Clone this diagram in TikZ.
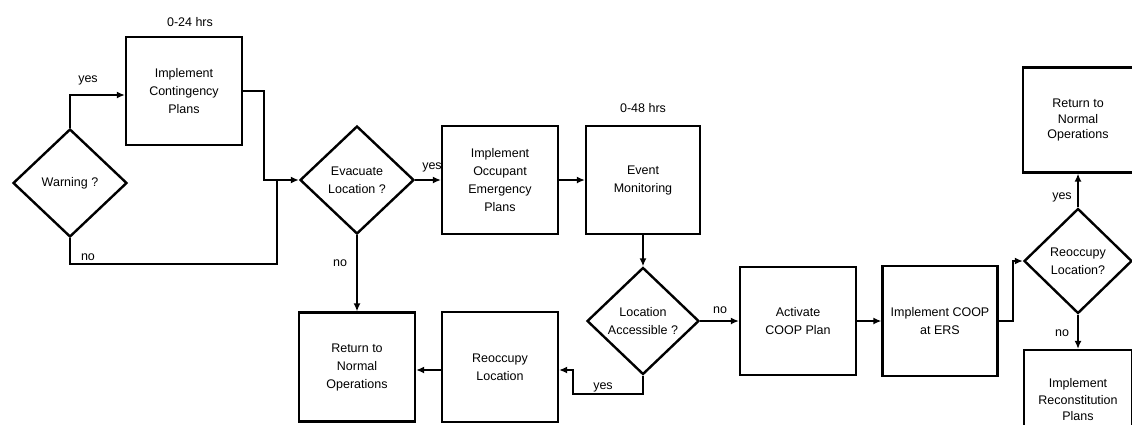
\documentclass[tikz,border=0pt]{standalone}
\usepackage{fontspec}
\setmainfont{Liberation Sans}
\usetikzlibrary{shapes.geometric,arrows.meta,calc}
\tikzset{
  txt/.style={font=\fontsize{12.5}{18}\selectfont, align=center},
  box/.style={txt, draw, line width=2.2pt, minimum width=116pt, minimum height=108pt, inner sep=2pt},
  dia/.style={txt, draw, shape=diamond, line width=2.4pt, minimum width=114pt, minimum height=108pt, inner sep=0pt},
  lbl/.style={font=\fontsize{12.5}{14}\selectfont, inner sep=1pt},
  ln/.style={line width=2pt},
  arr/.style={ln, -{Latex[length=8pt,width=7pt]}}
}
\begin{document}
\begin{tikzpicture}[x=1pt,y=-1pt]
\useasboundingbox (0,0) rectangle (1132,424);
% nodes
\node[dia] (warn) at (70,183) {Warning ?};
\node[box] (cont) at (184,91) {Implement\\Contingency\\Plans};
\node[lbl] (t24) at (190,22) {0-24 hrs};
\node[dia] (evac) at (357,180) {Evacuate\\Location ?};
\node[box] (occ) at (500,180) {Implement\\Occupant\\Emergency\\Plans};
\node[box,minimum width=114pt] (evt) at (643,180) {Event\\Monitoring};
\node[lbl] (t48) at (643,108) {0-48 hrs};
\node[dia,minimum width=112pt,minimum height=107pt] (loc) at (643,321) {Location\\Accessible ?};
\node[box] (act) at (798,321) {Activate\\COOP Plan};
\node[box,minimum width=115pt,minimum height=110pt] (ers) at (940,321) {Implement COOP\\at ERS};
\node[dia,minimum width=108pt,minimum height=105pt] (reoc) at (1078,261) {Reoccupy\\Location?};
\node[box,minimum width=110pt,minimum height=105pt,font=\fontsize{12.5}{15.5}\selectfont] (rtn2) at (1078,120) {Return to\\Normal\\Operations};
\node[box,minimum width=108pt,minimum height=100pt,font=\fontsize{12.5}{16.5}\selectfont] (recon) at (1078,400) {Implement\\Reconstitution\\Plans};
\node[box,minimum height=109pt] (rtn1) at (357,367) {Return to\\Normal\\Operations};
\node[box,minimum height=110pt] (reloc) at (500,367) {Reoccupy\\Location};
% connectors
\draw[arr] (warn.north) |- ([yshift=-4pt]cont.west);
\node[lbl] (lyes1) at (88,80) {yes};
\draw[arr] (cont.east) -- ++(21,0) |- (evac.west);
\coordinate (jn) at (277,180);
\draw[ln] (warn.south) -- ++(0,26) -| (jn);
\node[lbl] (lno1) at (88,257) {no};
\draw[arr] (evac.east) -- (occ.west);
\node[lbl] (lyes2) at (432,167) {yes};
\draw[arr] (occ.east) -- (evt.west);
\draw[arr] (evt.south) -- (loc.north);
\draw[arr] (loc.east) -- (act.west);
\node[lbl] (lno2) at (720,310) {no};
\draw[arr] (act.east) -- (ers.west);
\draw[arr] (ers.east) -- ++(14,0) |- (reoc.west);
\draw[arr] (reoc.north) -- (rtn2.south);
\node[lbl] (lyes3) at (1062,197) {yes};
\draw[arr] (reoc.south) -- (recon.north);
\node[lbl] (lno3) at (1062,333) {no};
\draw[arr] (evac.south) -- (rtn1.north);
\node[lbl] (lno4) at (340,263) {no};
\draw[arr] (loc.south) -- ++(0,18) -| ([xshift=14pt,yshift=-3pt]reloc.east) -- ([yshift=-3pt]reloc.east);
\node[lbl] (lyes4) at (603,387) {yes};
\draw[arr] ([yshift=-3pt]reloc.west) -- ([yshift=-3pt]rtn1.east);
\end{tikzpicture}
\end{document}
